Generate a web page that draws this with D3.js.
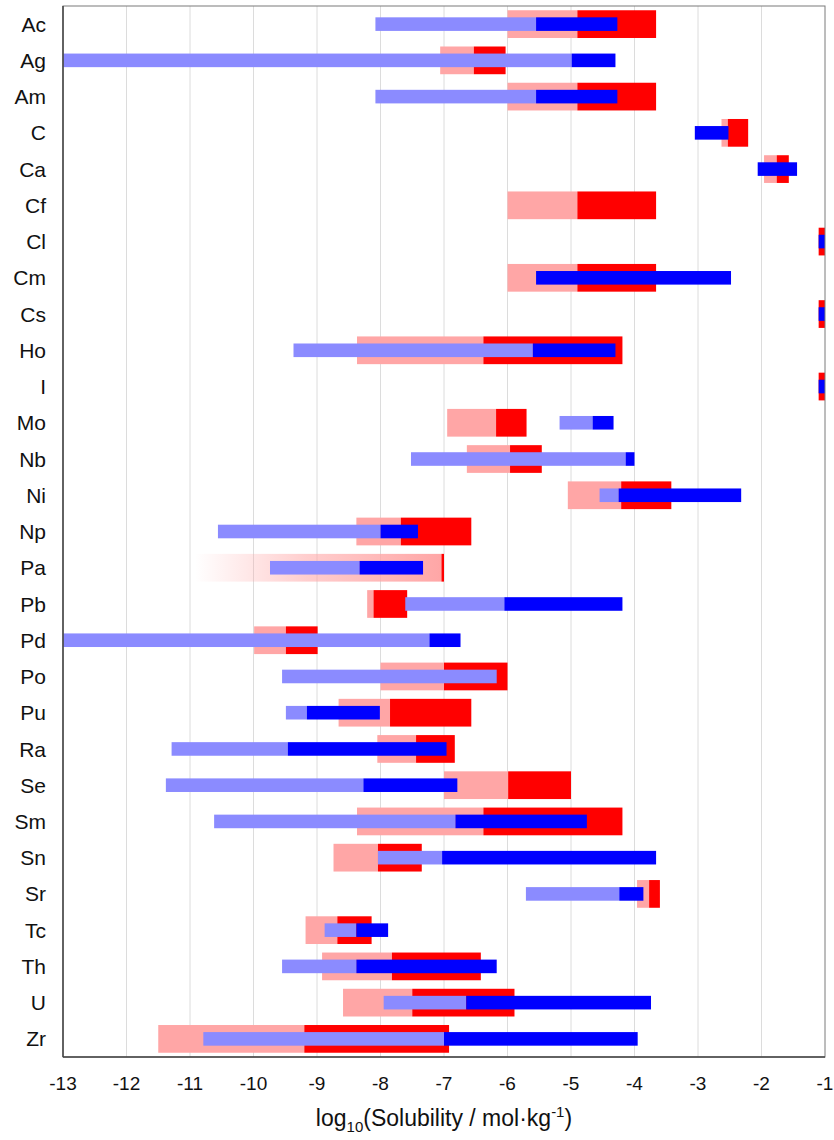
<!DOCTYPE html>
<html>
<head>
<meta charset="utf-8">
<script src="https://cdn.jsdelivr.net/npm/d3@7"></script>
<style>
  body { margin: 0; background: #fff; }
  svg { display: block; font-family: 'Liberation Sans', Arial, sans-serif; }
</style>
</head>
<body>
<svg id="chart" width="834" height="1140"></svg>
<script>
// elements, top to bottom
let elements = ['Ac', 'Ag', 'Am', 'C', 'Ca', 'Cf', 'Cl', 'Cm', 'Cs', 'Ho', 'I', 'Mo', 'Nb', 'Ni', 'Np',
    'Pa', 'Pb', 'Pd', 'Po', 'Pu', 'Ra', 'Se', 'Sm', 'Sn', 'Sr', 'Tc', 'Th', 'U', 'Zr']

// red range: light part redLo..redMid, dark part redMid..redHi
let redLo = [-6.0, -7.06, -6.0, -2.63, -1.96, -6.0, -1.1, -6.0, -1.1, -8.37, -1.1, -6.95, -6.64, -5.05, -8.38,
    -10.92, -8.21, -9.99, -8.0, -8.66, -8.05, -7.0, -8.37, -8.74, -3.96, -9.18, -8.92, -8.59, -11.5]
let redMid = [-4.9, -6.53, -4.9, -2.53, -1.76, -4.9, -1.1, -4.9, -1.1, -6.38, -1.1, -6.18, -5.96, -4.21, -7.68,
    -7.04, -8.11, -9.49, -7.0, -7.85, -7.44, -5.99, -6.38, -8.04, -3.77, -8.68, -7.82, -7.5, -9.2]
let redHi = [-3.66, -6.03, -3.66, -2.21, -1.57, -3.66, -1.0, -3.66, -1.0, -4.19, -1.0, -5.7, -5.46, -3.42, -6.57,
    -7.0, -7.58, -8.99, -6.0, -6.57, -6.83, -5.0, -4.19, -7.35, -3.6, -8.14, -6.42, -5.89, -6.92]

// blue range: light part blueLo..blueMid, dark part blueMid..blueHi
let blueLo = [-8.08, -13, -8.08, -3.05, -2.06, null, -1.1, -5.55, -1.1, -9.37, -1.1, -5.18, -7.52, -4.55, -10.56,
    -9.74, -7.61, -13, -9.55, -9.49, -11.29, -11.38, -10.62, -8.04, -5.71, -8.88, -9.55, -7.95, -10.79]
let blueMid = [-5.55, -4.99, -5.55, -3.05, -2.06, null, -1.1, -5.55, -1.1, -5.6, -1.1, -4.66, -4.14, -4.25, -8.0,
    -8.33, -6.05, -7.23, -6.17, -9.16, -9.46, -8.27, -6.82, -7.03, -4.24, -8.38, -8.38, -6.65, -7.0]
let blueHi = [-4.27, -4.3, -4.27, -2.52, -1.44, null, -1.0, -2.48, -1.0, -4.3, -1.0, -4.33, -4.0, -2.32, -7.41,
    -7.33, -4.19, -6.74, -6.17, -8.01, -6.96, -6.79, -4.75, -3.66, -3.86, -7.88, -6.17, -3.74, -3.95]

// rows whose light red range fades out to the left
let fadedRows = ['Pa']

let xTicks = [-13, -12, -11, -10, -9, -8, -7, -6, -5, -4, -3, -2, -1]

let width = 834
let height = 1140
let margin = { top: 6, right: 9, bottom: 83, left: 63 }
let innerW = width - margin.left - margin.right
let innerH = height - margin.top - margin.bottom

let svg = d3.select('#chart')

let defs = svg.append('defs')
let fade = defs.append('linearGradient')
    .attr('id', 'fade')
    .attr('x1', '0%').attr('x2', '100%')
    .attr('y1', '0%').attr('y2', '0%')
fade.append('stop').attr('offset', '0%').attr('stop-color', '#ffa6a6').attr('stop-opacity', 0)
fade.append('stop').attr('offset', '45%').attr('stop-color', '#ffa6a6').attr('stop-opacity', 0.55)
fade.append('stop').attr('offset', '100%').attr('stop-color', '#ffa6a6').attr('stop-opacity', 1)

let x = d3.scaleLinear().domain([-13, -1]).range([0, innerW])
let y = d3.scaleBand().domain(elements).range([0, innerH]).paddingInner(0).paddingOuter(0)

let g = svg.append('g').attr('transform', `translate(${margin.left},${margin.top})`)

// gridlines
g.append('g')
    .selectAll('line')
    .data(xTicks.slice(1, -1))
    .enter()
    .append('line')
    .attr('x1', d => x(d)).attr('x2', d => x(d))
    .attr('y1', 0).attr('y2', innerH)
    .attr('stroke', '#dcdcdc')
    .attr('stroke-width', 1)

let rows = elements.map((el, i) => ({
    el: el,
    redLo: redLo[i], redMid: redMid[i], redHi: redHi[i],
    blueLo: blueLo[i], blueMid: blueMid[i], blueHi: blueHi[i]
}))

let redH = y.bandwidth() * 0.765
let blueH = y.bandwidth() * 0.375

let drawBars = (data, lo, hi, h, fill, cls) => {
    g.append('g')
        .attr('class', cls)
        .selectAll('rect')
        .data(data.filter(d => d[lo] !== null && d[hi] - d[lo] > 0))
        .enter()
        .append('rect')
        .attr('x', d => x(d[lo]))
        .attr('width', d => x(d[hi]) - x(d[lo]))
        .attr('y', d => y(d.el) + (y.bandwidth() - h) / 2)
        .attr('height', h)
        .attr('fill', typeof fill === 'function' ? fill : () => fill)
}

drawBars(rows, 'redLo', 'redMid', redH, d => fadedRows.includes(d.el) ? 'url(#fade)' : '#ffa6a6', 'redlight')
drawBars(rows, 'redMid', 'redHi', redH, '#ff0000', 'red')
drawBars(rows, 'blueLo', 'blueMid', blueH, '#8b8bff', 'bluelight')
drawBars(rows, 'blueMid', 'blueHi', blueH, '#0000ff', 'blue')

// frame
g.append('rect')
    .attr('x', 0).attr('y', 0)
    .attr('width', innerW).attr('height', innerH)
    .attr('fill', 'none')
    .attr('stroke', '#7a7a7a')
    .attr('stroke-width', 1)
g.append('line')
    .attr('x1', 0).attr('x2', 0).attr('y1', 0).attr('y2', innerH)
    .attr('stroke', '#444').attr('stroke-width', 1.5)
g.append('line')
    .attr('x1', 0).attr('x2', innerW).attr('y1', innerH).attr('y2', innerH)
    .attr('stroke', '#444').attr('stroke-width', 1.5)

// category labels
g.append('g')
    .selectAll('text')
    .data(elements)
    .enter()
    .append('text')
    .attr('x', -17)
    .attr('y', d => y(d) + y.bandwidth() / 2)
    .attr('dy', '0.36em')
    .attr('text-anchor', 'end')
    .attr('font-size', 21)
    .attr('fill', '#111')
    .text(d => d)

// x tick labels
g.append('g')
    .selectAll('text')
    .data(xTicks)
    .enter()
    .append('text')
    .attr('x', d => x(d))
    .attr('y', innerH + 33)
    .attr('text-anchor', 'middle')
    .attr('font-size', 19)
    .attr('fill', '#111')
    .text(d => d3.format('')(d).replace('−', '-'))

// axis title
let title = g.append('text')
    .attr('x', innerW / 2)
    .attr('y', innerH + 69)
    .attr('text-anchor', 'middle')
    .attr('font-size', 23)
    .attr('fill', '#111')
title.append('tspan').text('log')
title.append('tspan').attr('font-size', 15).attr('dy', 6).text('10')
title.append('tspan').attr('dy', -6).text('(Solubility / mol·kg')
title.append('tspan').attr('font-size', 15).attr('dy', -9).text('-1')
title.append('tspan').attr('dy', 9).text(')')
</script>
</body>
</html>
